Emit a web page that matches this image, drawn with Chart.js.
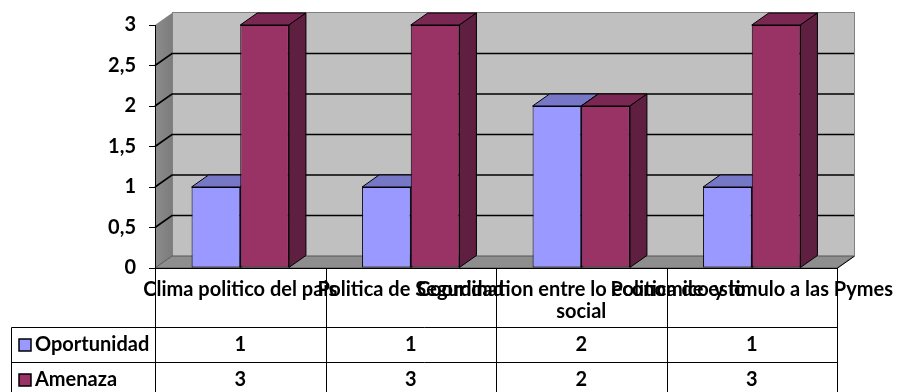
<!DOCTYPE html>
<html>
<head>
<meta charset="utf-8">
<script src="https://cdn.jsdelivr.net/npm/chart.js@4.4.1/dist/chart.umd.min.js"></script>
<style>
  html, body { margin: 0; padding: 0; background: #fff; }
  #wrap { width: 897px; height: 392px; position: relative; }
</style>
</head>
<body>
<div id="wrap"><canvas id="grafico"></canvas></div>
<script>
// Datos
const categorias = [
  ['Clima politico del pais'],
  ['Politica de Seguridad'],
  ['Coordination entre lo economico y lo', 'social'],
  ['Politica de estimulo a las Pymes']
];
const series = ['Oportunidad', 'Amenaza'];
const oportunidad = [1, 1, 2, 1];
const amenaza = [3, 3, 2, 3];
const ejeMin = 0, ejeMax = 3, ejePaso = 0.5;

// Colores por serie: frente, tapa, lado
const frentes = ['#9999ff', '#993366'];
const tapas = ['#7777c8', '#7a2853'];
const lados = ['#5c5ca0', '#5f1f40'];

const FUENTE = 'Lato, "DejaVu Sans", sans-serif';
const TAM = 20;
const DX = 17, DY = 12; // profundidad 3D

function poligono(ctx, pts) {
  ctx.beginPath();
  ctx.moveTo(pts[0][0], pts[0][1]);
  for (let i = 1; i < pts.length; i++) ctx.lineTo(pts[i][0], pts[i][1]);
  ctx.closePath();
}

const grafico3d = {
  id: 'grafico3d',
  beforeDraw(chart) {
    const { ctx, chartArea: a, scales: { y } } = chart;
    ctx.save();
    // pared lateral
    const grad = ctx.createLinearGradient(a.left, 0, a.left + DX, 0);
    grad.addColorStop(0, '#8c8c8c');
    grad.addColorStop(1, '#7c7c7c');
    ctx.fillStyle = grad;
    poligono(ctx, [[a.left, a.top], [a.left + DX, a.top - DY], [a.left + DX, a.bottom - DY], [a.left, a.bottom]]);
    ctx.fill();
    // pared del fondo
    ctx.fillStyle = '#c0c0c0';
    ctx.fillRect(a.left + DX, a.top - DY - 1, a.right - a.left, a.bottom - a.top + 1);
    ctx.strokeStyle = '#808080';
    ctx.lineWidth = 1;
    ctx.strokeRect(a.left + DX + 0.5, a.top - DY - 0.5, a.right - a.left, a.bottom - a.top + 1);
    // piso
    ctx.fillStyle = '#8e8e8e';
    poligono(ctx, [[a.left, a.bottom], [a.left + DX, a.bottom - DY], [a.right + DX, a.bottom - DY], [a.right, a.bottom]]);
    ctx.fill();
    ctx.strokeStyle = '#555';
    ctx.stroke();
    // lineas de division
    ctx.strokeStyle = '#000';
    ctx.lineWidth = 1.6;
    y.ticks.forEach(t => {
      if (t.value === ejeMin || t.value === ejeMax) return;
      const py = y.getPixelForValue(t.value);
      ctx.beginPath();
      ctx.moveTo(a.left, py);
      ctx.lineTo(a.left + DX, py - DY);
      ctx.lineTo(a.right + DX, py - DY);
      ctx.stroke();
    });
    ctx.restore();
  },
  beforeDatasetsDraw(chart) {
    const { ctx, chartArea: a } = chart;
    const metas = chart.data.datasets.map((d, i) => chart.getDatasetMeta(i));
    ctx.save();
    ctx.strokeStyle = '#000';
    ctx.lineWidth = 1;
    ctx.lineJoin = 'round';
    for (let c = 0; c < categorias.length; c++) {
      metas.forEach((meta, i) => {
        const el = meta.data[c];
        const { x, y: top, base, width } = el.getProps(['x', 'y', 'base', 'width'], true);
        const l = x - width / 2, r = x + width / 2;
        ctx.fillStyle = tapas[i];
        poligono(ctx, [[l, top], [l + DX, top - DY], [r + DX, top - DY], [r, top]]);
        ctx.fill(); ctx.stroke();
        ctx.fillStyle = lados[i];
        poligono(ctx, [[r, top], [r + DX, top - DY], [r + DX, base - DY], [r, base]]);
        ctx.fill(); ctx.stroke();
        el.draw(ctx, a);
      });
    }
    ctx.restore();
    return false;
  },
  afterDraw(chart) {
    const { ctx, chartArea: a, scales: { x } } = chart;
    const alto = chart.height;
    const paso = (a.right - a.left) / categorias.length;
    ctx.save();
    // borde frontal del piso
    ctx.strokeStyle = '#000';
    ctx.lineWidth = 1;
    ctx.beginPath();
    ctx.moveTo(a.left, a.bottom + 0.5);
    ctx.lineTo(a.right, a.bottom + 0.5);
    ctx.lineTo(a.right + DX, a.bottom - DY + 0.5);
    ctx.stroke();

    // tabla de datos
    const fila1 = a.bottom + 59.5, fila2 = a.bottom + 94.5, filaAlto = 35;
    const izq = 11.5;
    ctx.beginPath();
    for (let c = 0; c <= categorias.length; c++) {
      const px = Math.round(a.left + c * paso) + 0.5;
      ctx.moveTo(px, a.bottom);
      ctx.lineTo(px, alto);
    }
    ctx.moveTo(izq, fila1); ctx.lineTo(a.right, fila1);
    ctx.moveTo(izq, fila2); ctx.lineTo(a.right, fila2);
    ctx.moveTo(izq, fila1); ctx.lineTo(izq, alto);
    ctx.stroke();

    ctx.fillStyle = '#000';
    ctx.font = 'bold ' + TAM + 'px ' + FUENTE;
    ctx.textBaseline = 'middle';
    ctx.textAlign = 'center';
    // etiquetas de categorias
    categorias.forEach((lineas, c) => {
      const cx = x.getPixelForValue(c);
      lineas.forEach((t, k) => ctx.fillText(t, cx, a.bottom + 22 + k * 22));
    });

    const valores = [oportunidad, amenaza];
    const filas = [fila1, fila2];
    valores.forEach((vals, i) => {
      const cy = filas[i] + filaAlto / 2;
      ctx.fillStyle = frentes[i];
      ctx.fillRect(19, cy - 6, 12, 12);
      ctx.lineWidth = 1.5;
      ctx.strokeRect(19, cy - 6, 12, 12);
      ctx.fillStyle = '#000';
      ctx.textAlign = 'left';
      ctx.fillText(series[i], 35, cy);
      ctx.textAlign = 'center';
      vals.forEach((v, c) => ctx.fillText(String(v), x.getPixelForValue(c), cy));
    });
    ctx.restore();
  }
};

new Chart(document.getElementById('grafico'), {
  type: 'bar',
  data: {
    labels: categorias.map(l => l.join(' ')),
    datasets: [
      { label: series[0], data: oportunidad, backgroundColor: frentes[0] },
      { label: series[1], data: amenaza, backgroundColor: frentes[1] }
    ]
  },
  options: {
    responsive: true,
    maintainAspectRatio: false,
    animation: false,
    layout: { padding: { left: 0, top: 23, right: 60, bottom: 124 } },
    datasets: {
      bar: {
        borderColor: '#000',
        borderWidth: 1,
        borderSkipped: false,
        categoryPercentage: 0.571,
        barPercentage: 1
      }
    },
    plugins: { legend: { display: false }, tooltip: { enabled: false } },
    scales: {
      x: { display: false },
      y: {
        min: ejeMin,
        max: ejeMax,
        afterFit(scale) { scale.width = 155; },
        border: { display: true, color: '#000', width: 1 },
        grid: { display: true, drawOnChartArea: false, drawTicks: true, tickLength: 6, color: '#000' },
        ticks: {
          stepSize: ejePaso,
          padding: 13,
          color: '#000',
          font: { family: FUENTE, size: TAM, weight: 'bold' },
          callback: v => String(v).replace('.', ',')
        }
      }
    }
  },
  plugins: [grafico3d]
});
</script>
</body>
</html>
